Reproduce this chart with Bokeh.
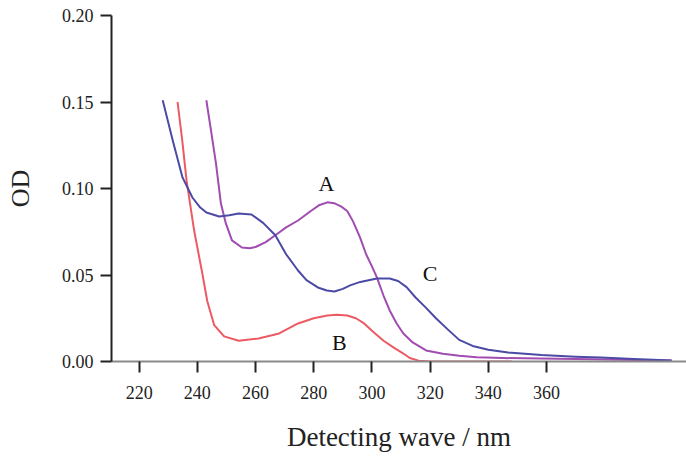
from bokeh.plotting import figure
from bokeh.models import FixedTicker, NumeralTickFormatter, Label
from bokeh.embed import file_html
from bokeh.resources import INLINE

# Curve A (purple)
wl_a = [243.1, 244.7, 246.4, 248.1, 249.8, 251.9, 255.3, 258.0, 260.0, 263.5, 266.8, 270.5, 274.6, 279.0,
        282.0, 284.7, 287.0, 289.5, 291.5, 293.5, 295.9, 298.0, 300.0, 301.7, 304.0, 306.1, 308.5,
        310.8, 314.0, 318.6, 324.4, 330.0, 336.0, 345.0, 358.0, 370.0, 385.0, 403.0]
od_a = [0.151, 0.1335, 0.1145, 0.0913, 0.0798, 0.070, 0.0659, 0.0655, 0.0662, 0.069, 0.073, 0.0775, 0.0815,
        0.087, 0.0905, 0.092, 0.0915, 0.0895, 0.087, 0.081, 0.0717, 0.062, 0.055, 0.0486, 0.038, 0.0295,
        0.022, 0.0162, 0.011, 0.0064, 0.0045, 0.0033, 0.0025, 0.002, 0.0017, 0.0014, 0.001, 0.0006]

# Curve B (red)
wl_b = [233.2, 234.8, 236.3, 238.9, 241.7, 243.4, 245.8, 249.2, 254.2, 261.0, 267.8, 274.6, 280.0, 284.7,
        288.0, 291.5, 294.5, 297.3, 300.5, 304.0, 307.5, 310.8, 313.0, 316.0, 320.0, 348.0]
od_b = [0.150, 0.128, 0.1046, 0.0757, 0.051, 0.035, 0.021, 0.0145, 0.012, 0.0133, 0.016, 0.022, 0.025,
        0.0266, 0.027, 0.0266, 0.025, 0.022, 0.017, 0.012, 0.008, 0.0046, 0.002, 0.0005, 0.0, 0.0]

# Curve C (blue)
wl_c = [228.1, 231.5, 234.9, 238.3, 241.0, 243.1, 247.5, 251.0, 254.2, 258.6, 262.7, 266.8, 270.5, 274.6,
        277.5, 281.4, 284.5, 287.1, 290.0, 292.5, 296.0, 301.7, 306.1, 309.0, 311.9, 315.0, 318.6,
        322.0, 326.4, 330.0, 334.6, 340.0, 346.8, 358.3, 370.0, 378.6, 390.0, 403.0]
od_c = [0.151, 0.128, 0.1064, 0.0948, 0.089, 0.0861, 0.0838, 0.0845, 0.0855, 0.085, 0.080, 0.073, 0.062,
        0.0526, 0.047, 0.0428, 0.041, 0.0405, 0.042, 0.044, 0.046, 0.048, 0.048, 0.0465, 0.043, 0.037,
        0.031, 0.025, 0.018, 0.0125, 0.009, 0.0068, 0.0052, 0.0037, 0.0028, 0.0023, 0.0015, 0.0006]

x_ticks = [220, 240, 260, 280, 300, 320, 340, 360]
y_ticks = [0.0, 0.05, 0.10, 0.15, 0.20]

labels = ["A", "B", "C"]
label_x = [284.4, 288.8, 320.0]
label_y = [0.1029, 0.011, 0.051]

p = figure(width=686, height=459, x_range=(210.5, 408.1), y_range=(0, 0.2),
           output_backend="svg", toolbar_location=None,
           min_border_left=111, min_border_top=15, min_border_right=0, min_border_bottom=98)
p.outline_line_color = None
p.xgrid.visible = False
p.ygrid.visible = False
p.background_fill_color = "white"
p.border_fill_color = "white"

font = "Liberation Serif"

p.xaxis.ticker = FixedTicker(ticks=x_ticks)
p.yaxis.ticker = FixedTicker(ticks=y_ticks)
p.yaxis.formatter = NumeralTickFormatter(format="0.00")
for ax in (p.xaxis, p.yaxis):
    ax.minor_tick_line_color = None
    ax.major_tick_in = 0
    ax.major_tick_out = 11
    ax.major_label_text_font = font
    ax.major_label_text_font_size = "18px"
    ax.major_label_text_color = "#222222"
    ax.axis_label_text_font = font
    ax.axis_label_text_font_style = "normal"
    ax.axis_label_text_color = "#222222"
    ax.major_tick_line_width = 2
    ax.major_tick_line_color = "#222222"

p.yaxis.axis_line_width = 2
p.yaxis.axis_line_color = "#222222"
p.xaxis.axis_line_width = 2
p.xaxis.axis_line_color = "#8a8a8a"
p.xaxis.major_label_standoff = 13
p.yaxis.major_label_standoff = 7
p.xaxis.axis_label = "Detecting wave / nm"
p.xaxis.axis_label_text_font_size = "27px"
p.xaxis.axis_label_standoff = 20
p.yaxis.axis_label = "OD"
p.yaxis.axis_label_text_font_size = "26px"
p.yaxis.axis_label_standoff = 24

p.line(wl_a, od_a, line_color="#a04cb0", line_width=2, line_join="round")
p.line(wl_b, od_b, line_color="#ec5a63", line_width=2, line_join="round")
p.line(wl_c, od_c, line_color="#4b4aa5", line_width=2, line_join="round")

for t, x, y in zip(labels, label_x, label_y):
    p.add_layout(Label(x=x, y=y, text=t, text_font=font, text_font_size="22px",
                       text_align="center", text_baseline="middle", text_color="#111111"))

open("out.html", "w").write(file_html(p, INLINE))
